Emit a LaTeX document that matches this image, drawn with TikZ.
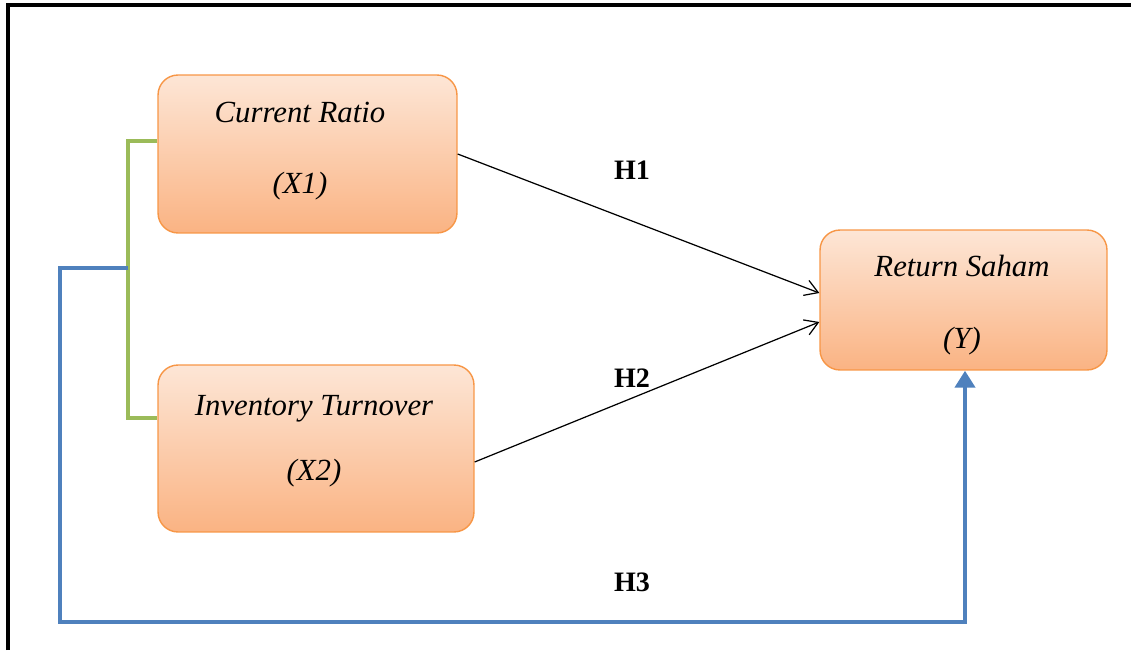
\documentclass[tikz,border=0pt]{standalone}
\usepackage{fontspec}
\setmainfont{Liberation Serif}
\usetikzlibrary{arrows.meta}
\definecolor{box-edge}{HTML}{F79646}
\definecolor{box-top}{HTML}{FDE6D6}
\definecolor{box-bottom}{HTML}{FAB383}
\definecolor{link-green}{HTML}{9BBB59}
\definecolor{link-blue}{HTML}{4F81BD}

\begin{document}
\begin{tikzpicture}[x=0.02cm, y=-0.02cm,
        every node/.style={font=\fontsize{17.5}{21}\selectfont},
        varbox/.style={draw=box-edge, line width=0.8pt, rounded corners=0.4cm,
            top color=box-top, bottom color=box-bottom},
        vartext/.style={align=center, font=\fontsize{17.5}{21}\selectfont\itshape},
        hyp/.style={font=\fontsize{16}{19}\selectfont\bfseries},
        path/.style={draw=black, line width=0.7pt, -{Straight Barb[length=2.6mm, width=3.2mm]}}]
      \useasboundingbox (0,0) rectangle (1131,655);
      % frame, open on the right and bottom
      \draw[line width=2.8pt] (8,650) -- (8,5) -- (1131,5);
      % variables
      \node[varbox, minimum width=5.98cm, minimum height=3.16cm] (X1) at (307.5,154) {};
      \node[varbox, minimum width=6.32cm, minimum height=3.34cm] (X2) at (316,448.5) {};
      \node[varbox, minimum width=5.74cm, minimum height=2.8cm] (Y) at (963.5,300) {};
      \node[vartext] (X1-text) at (300,151) {Current Ratio\\[19pt](X1)};
      \node[vartext] (X2-text) at (314,441.5) {Inventory Turnover\\[16pt](X2)};
      \node[vartext] (Y-text) at (962,305) {Return Saham\\[20pt](Y)};
      % simultaneous link
      \coordinate (split) at (128,268);
      \coordinate (yfoot) at (965,622);
      \draw[link-green, line width=2.2pt] ([yshift=0.26cm]X1.west) -| (split) |- ([yshift=0.61cm]X2.west);
      \draw[link-blue, line width=2.8pt, -{Triangle[length=3.4mm, width=4mm]}]
            (split) -- (60,268) |- (yfoot) -- (yfoot |- Y.south);
      % partial paths
      \draw[path] (X1.east) -- ([yshift=0.14cm]Y.west);
      \draw[path] ([yshift=-0.27cm]X2.east) -- ([yshift=-0.44cm]Y.west);
      \node[hyp] (H1) at (632,170) {H1};
      \node[hyp] (H2) at (632,378) {H2};
      \node[hyp] (H3) at (632,582) {H3};
\end{tikzpicture}
\end{document}
